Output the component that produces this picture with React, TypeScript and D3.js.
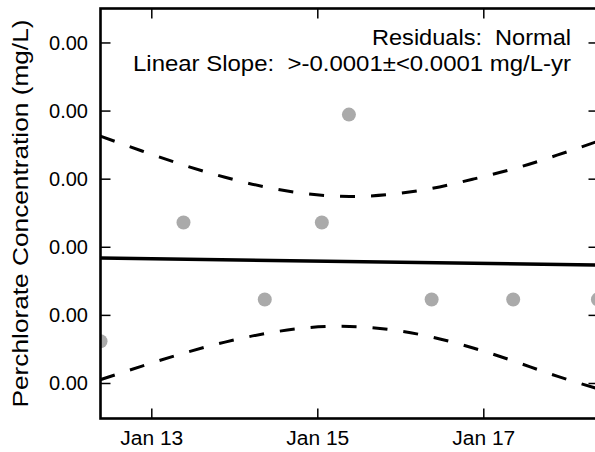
import React from "react";
import * as d3 from "d3";

// ---- data ----
const sampleDates = [
  "2014-01-12T09:10", "2014-01-13T09:10", "2014-01-14T08:40", "2014-01-15T01:10",
  "2014-01-15T09:00", "2014-01-16T08:55", "2014-01-17T08:30", "2014-01-18T09:00",
];
const concentrations = [0.00031, 0.001182, 0.000617, 0.001182, 0.001974, 0.000617, 0.000617, 0.000617];

const trendDates = ["2014-01-12T09:10", "2014-01-18T09:10"];
const trendValues = [0.000922, 0.000869];

const bandDates = [
  "2014-01-12T09:10", "2014-01-12T21:10", "2014-01-13T09:10", "2014-01-13T21:10",
  "2014-01-14T09:10", "2014-01-14T21:10", "2014-01-15T09:10", "2014-01-15T21:10",
  "2014-01-16T09:10", "2014-01-16T21:10", "2014-01-17T09:10", "2014-01-17T21:10",
  "2014-01-18T09:10",
];
const bandUpper = [
  0.001816, 0.001707, 0.001604, 0.001514, 0.001441, 0.001392, 0.001373,
  0.001389, 0.001433, 0.001502, 0.00158, 0.001676, 0.00178,
];
const bandLower = [
  0.000028, 0.000128, 0.000222, 0.000304, 0.000368, 0.00041, 0.000419,
  0.000395, 0.00034, 0.000259, 0.00016, 0.000054, -0.00004,
];

const xTickDates = ["2014-01-13T00:00", "2014-01-15T00:00", "2014-01-17T00:00"];
const yTickValues = [0, 0.0005, 0.001, 0.0015, 0.002, 0.0025];
const xDomain = ["2014-01-12T09:10", "2014-01-18T09:10"];
const yDomain = [-0.000257, 0.002753];

const yLabel = "Perchlorate Concentration (mg/L)";
const annotation1 = "Residuals:\u00a0\u00a0Normal";
const annotation2 = "Linear Slope:\u00a0\u00a0>-0.0001\u00b1<0.0001 mg/L-yr";

// ---- layout ----
const W = 595;
const H = 452;
const L = 100.5, R = 598.5, T = 8.5, B = 418.5;
const FONT = "'Liberation Sans', Arial, Helvetica, sans-serif";

const parse = d3.utcParse("%Y-%m-%dT%H:%M");

export default function App() {
  const x = d3.scaleUtc().domain(xDomain.map((s) => parse(s) as Date)).range([L, R]);
  const y = d3.scaleLinear().domain(yDomain).range([B, T]);
  const fmtX = d3.utcFormat("%b %d");
  const fmtY = d3.format(".2f");

  const line = d3
    .line<[Date, number]>()
    .x((d) => x(d[0]))
    .y((d) => y(d[1]));
  const curve = d3
    .line<[Date, number]>()
    .x((d) => x(d[0]))
    .y((d) => y(d[1]))
    .curve(d3.curveNatural);

  const trend = trendDates.map((s, i) => [parse(s) as Date, trendValues[i]] as [Date, number]);
  const upper = bandDates.map((s, i) => [parse(s) as Date, bandUpper[i]] as [Date, number]);
  const lower = bandDates.map((s, i) => [parse(s) as Date, bandLower[i]] as [Date, number]);
  const pts = sampleDates.map((s, i) => ({ d: parse(s) as Date, v: concentrations[i] }));

  const tickLen = 10;

  return (
    <svg
      width={W}
      height={H}
      viewBox={`0 0 ${W} ${H}`}
      style={{ position: "absolute", left: 0, top: 0, background: "#fff" }}
    >
      <defs>
        <clipPath id="plotClip">
          <rect x={L} y={T} width={R - L} height={B - T} />
        </clipPath>
      </defs>
      <rect x={0} y={0} width={W} height={H} fill="#fff" />

      <g clipPath="url(#plotClip)">
        {pts.map((p, i) => (
          <circle key={i} cx={x(p.d)} cy={y(p.v)} r={7} fill="#aaaaaa" />
        ))}
        <path d={line(trend) || ""} fill="none" stroke="#000" strokeWidth={3.5} />
        <path
          d={curve(upper) || ""}
          fill="none"
          stroke="#000"
          strokeWidth={3}
          strokeDasharray="15 16"
        />
        <path
          d={curve(lower) || ""}
          fill="none"
          stroke="#000"
          strokeWidth={3}
          strokeDasharray="15 16"
        />
      </g>

      {/* ticks */}
      <g stroke="#000" strokeWidth={1.5}>
        {yTickValues.map((v, i) => (
          <g key={"yt" + i}>
            <line x1={L} x2={L + tickLen} y1={y(v)} y2={y(v)} />
            <line x1={R - tickLen} x2={R} y1={y(v)} y2={y(v)} />
          </g>
        ))}
        {xTickDates.map((s, i) => {
          const xx = x(parse(s) as Date);
          return (
            <g key={"xt" + i}>
              <line x1={xx} x2={xx} y1={B} y2={B - tickLen} />
              <line x1={xx} x2={xx} y1={T} y2={T + tickLen} />
            </g>
          );
        })}
      </g>

      {/* spines */}
      <rect x={L} y={T} width={R - L} height={B - T} fill="none" stroke="#000" strokeWidth={2.6} />

      {/* tick labels */}
      <g fontFamily={FONT} fontSize={19.5} fill="#000">
        {yTickValues.map((v, i) => (
          <text
            key={"yl" + i}
            x={49}
            y={y(v) + 7}
            textLength={39}
            lengthAdjust="spacingAndGlyphs"
          >
            {fmtY(v)}
          </text>
        ))}
        {xTickDates.map((s, i) => {
          const xx = x(parse(s) as Date);
          return (
            <text
              key={"xl" + i}
              x={xx - 31.5}
              y={445}
              textLength={63}
              lengthAdjust="spacingAndGlyphs"
            >
              {fmtX(parse(s) as Date)}
            </text>
          );
        })}
      </g>

      <text
        transform={`translate(27.5, ${(T + B) / 2 + 194}) rotate(-90)`}
        fontFamily={FONT}
        fontSize={22}
        fill="#000"
        textLength={388}
        lengthAdjust="spacingAndGlyphs"
      >
        {yLabel}
      </text>

      <g fontFamily={FONT} fontSize={22.5} fill="#000">
        <text x={372} y={45} textLength={199} lengthAdjust="spacingAndGlyphs">
          {annotation1}
        </text>
        <text x={133} y={71} textLength={438} lengthAdjust="spacingAndGlyphs">
          {annotation2}
        </text>
      </g>
    </svg>
  );
}
